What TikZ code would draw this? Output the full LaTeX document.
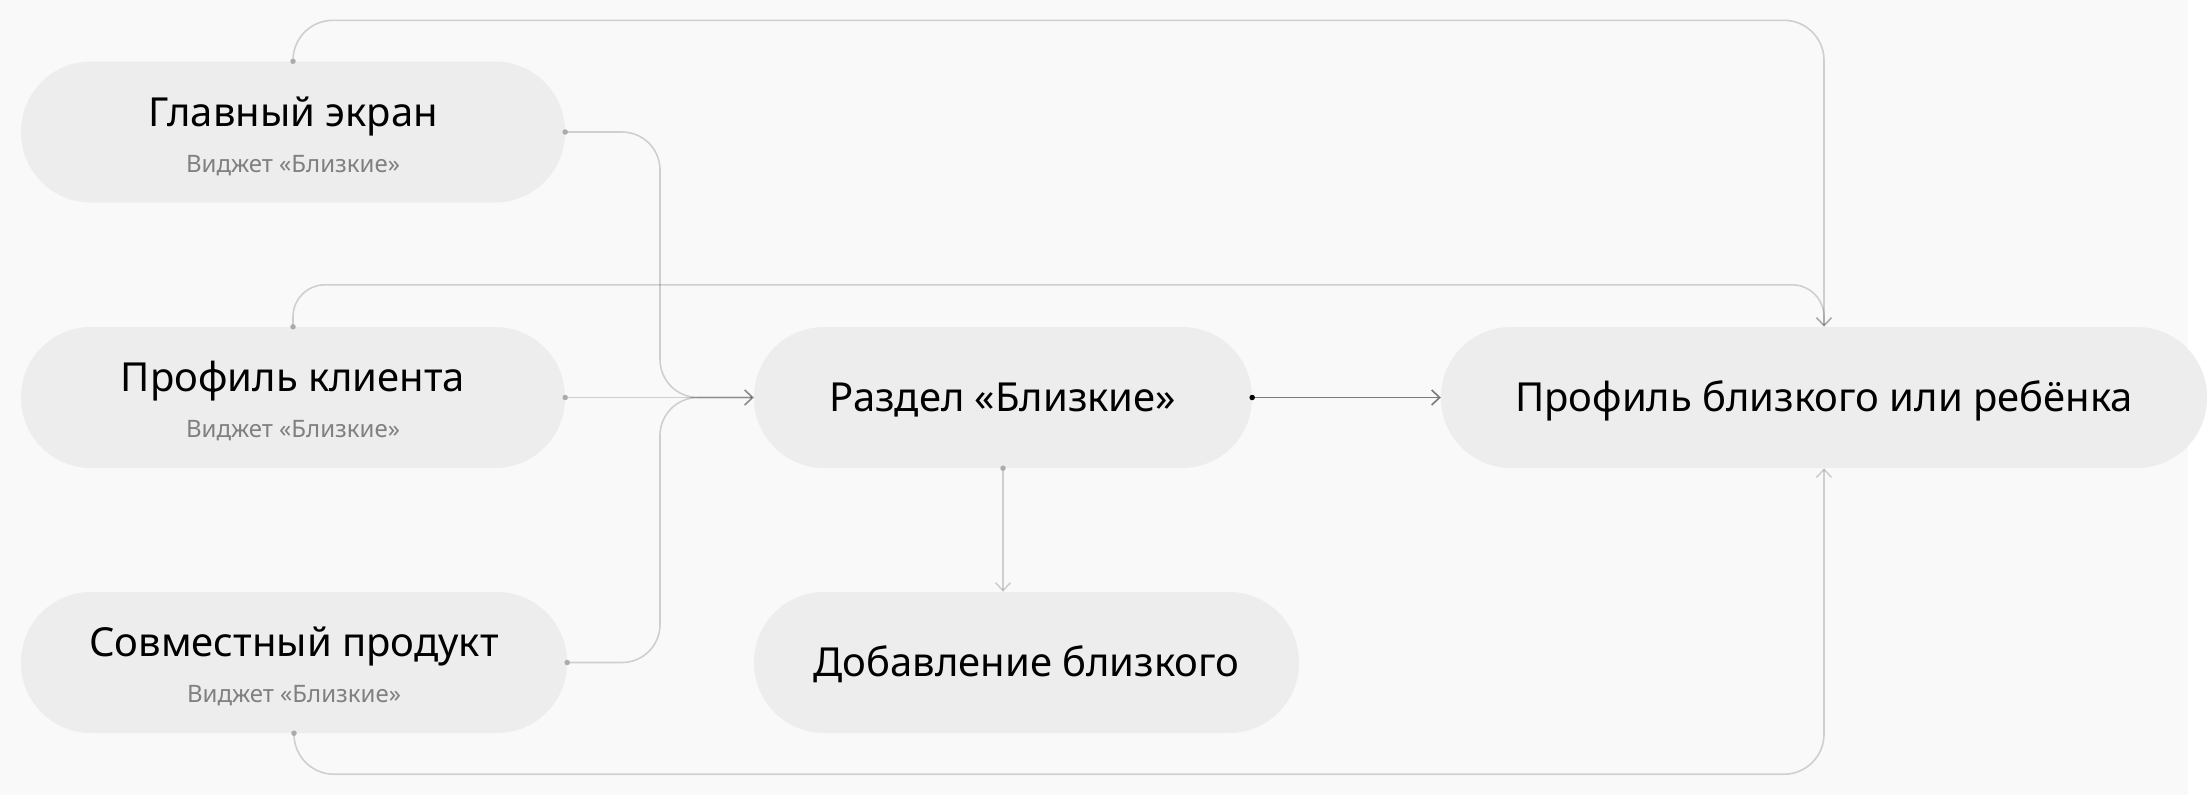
\documentclass[tikz,border=0pt]{standalone}
\usepackage{fontspec}
\setmainfont{Noto Sans}
\usetikzlibrary{arrows.meta}
\definecolor{bgc}{HTML}{F9F9F9}
\definecolor{pillc}{HTML}{EDEDED}
\definecolor{subc}{HTML}{808080}
\definecolor{dotc}{HTML}{ABABAB}
\definecolor{darkline}{HTML}{7A7A7A}
\begin{document}
\begin{tikzpicture}[x=1pt,y=-1pt,
  pill/.style={fill=pillc, rounded corners=70pt, minimum height=141pt, inner sep=0pt},
  ttl/.style={font=\fontsize{40}{40}\selectfont, text=black, inner sep=0pt, anchor=base},
  subt/.style={font=\fontsize{24}{24}\selectfont, text=subc, inner sep=0pt, anchor=base},
  tip/.tip={Straight Barb[length=8pt,width=15pt]},
  conn/.style={draw=black, draw opacity=0.17, line width=1.6pt, rounded corners=38pt, -tip},
  darkconn/.style={draw=darkline, line width=1.6pt, -tip},
  dotl/.style={circle, fill=dotc, inner sep=0pt, minimum size=5.5pt},
  dotd/.style={circle, fill=black, inner sep=0pt, minimum size=5.5pt},
]
\useasboundingbox[fill=white] (0,0) rectangle (2209,795);
\fill[bgc] (0,0) rectangle (2188,795);

% boxes
\node[pill, minimum width=544pt] (glav) at (293,132) {};
\node[ttl] (glavT) at (293,126) {Главный экран};
\node[subt] (glavS) at (293,172) {Виджет «Близкие»};

\node[pill, minimum width=544pt] (klient) at (293,397.5) {};
\node[ttl] (klientT) at (293,391.5) {Профиль клиента};
\node[subt] (klientS) at (293,437.5) {Виджет «Близкие»};

\node[pill, minimum width=546pt] (sovm) at (294,662.5) {};
\node[ttl] (sovmT) at (294,656.5) {Совместный продукт};
\node[subt] (sovmS) at (294,702.5) {Виджет «Близкие»};

\node[pill, minimum width=498pt] (razdel) at (1003,397.5) {};
\node[ttl] (razdelT) at (1003,411.5) {Раздел «Близкие»};

\node[pill, minimum width=545pt] (dobav) at (1026.5,662.5) {};
\node[ttl] (dobavT) at (1026.5,676.5) {Добавление близкого};

\node[pill, minimum width=766pt] (profil) at (1824,397.5) {};
\node[ttl] (profilT) at (1824,411.5) {Профиль близкого или ребёнка};

% waypoints
\coordinate (merge) at (660,397.5);

% connectors
\draw[conn] (glav.east) -| (merge) -- (razdel.west);
\draw[conn] (klient.east) -- (razdel.west);
\draw[conn] (sovm.east) -| (merge) -- (razdel.west);
\draw[darkconn] (razdel.east) -- (profil.west);
\draw[conn] (razdel.south) -- (razdel.south |- dobav.north);
\draw[conn, rounded corners=40pt] (glav.north) -- ++(0,-41) -| (profil.north);
\draw[conn, rounded corners=32pt] (klient.north) -- ++(0,-42) -| (profil.north);
\draw[conn, rounded corners=40pt] (sovm.south) -- ++(0,41) -| (profil.south);

% dots
\node[dotl] (d1) at (glav.east) {};
\node[dotl] (d2) at (klient.east) {};
\node[dotl] (d3) at (sovm.east) {};
\node[dotl] (d4) at (glav.north) {};
\node[dotl] (d5) at (klient.north) {};
\node[dotl] (d6) at (sovm.south) {};
\node[dotl] (d7) at (razdel.south) {};
\node[dotd] (d8) at (razdel.east) {};
\end{tikzpicture}
\end{document}
